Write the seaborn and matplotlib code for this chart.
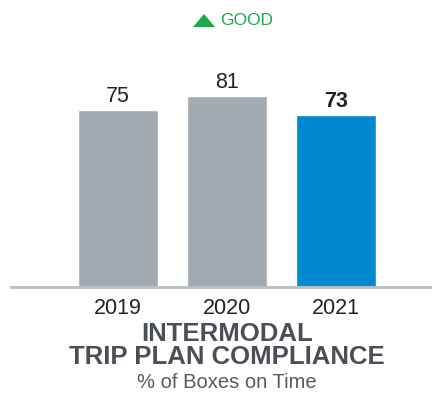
import matplotlib
matplotlib.use("Agg")
import matplotlib.pyplot as plt
from matplotlib.patches import Polygon
import seaborn as sns
import pandas as pd

years = ["2019", "2020", "2021"]
values = [75, 81, 73]
bar_colors = ["#A2ABB1", "#A2ABB1", "#0089CF"]

sns.set_theme(style="white")
plt.rcParams["font.family"] = ["Liberation Sans", "DejaVu Sans"]

df = pd.DataFrame({"year": years, "value": values})

W, H = 432, 394
fig = plt.figure(figsize=(W / 100, H / 100), dpi=100)
ax = fig.add_axes([11 / W, 1 - 287 / H, 1 - 11 / W, 236 / H])

sns.barplot(data=df, x="year", y="value", hue="year", palette=bar_colors,
            width=0.734, legend=False, ax=ax, saturation=1)

ax.set_xlim(-0.98, 2.88)
ax.set_ylim(0, 100)
for s in ["top", "right", "left"]:
    ax.spines[s].set_visible(False)
ax.spines["bottom"].set_color("#B8C0C5")
ax.spines["bottom"].set_linewidth(2)
ax.set_yticks([])
ax.set_xlabel("")
ax.set_ylabel("")
ax.tick_params(axis="x", length=0, pad=8, labelsize=15.5, colors="#222222")

for i, (cont, v) in enumerate(zip(ax.containers, values)):
    ax.bar_label(cont, labels=[str(v)], padding=2, fontsize=15.5,
                 color="#222222",
                 fontweight="bold" if i == len(values) - 1 else "normal")

title_color = "#4A4F57"
fig.text(227 / W, 1 - 334 / H, "INTERMODAL", ha="center", va="center",
         fontsize=18.5, fontweight="bold", color=title_color)
fig.text(227 / W, 1 - 357 / H, "TRIP PLAN COMPLIANCE", ha="center",
         va="center", fontsize=18.5, fontweight="bold", color=title_color)
fig.text(227 / W, 1 - 383 / H, "% of Boxes on Time", ha="center",
         va="center", fontsize=14.5, color="#555A60")

# green "good" indicator: flat up-triangle plus label
green = "#1DA84A"
tri = Polygon([(193 / W, 1 - 27 / H), (215 / W, 1 - 27 / H),
               (204 / W, 1 - 14 / H)], closed=True, transform=fig.transFigure,
              facecolor=green, edgecolor="none")
fig.patches.append(tri)
fig.text(220 / W, 1 - 20.5 / H, "GOOD", ha="left", va="center",
         fontsize=12.5, color=green)

fig.savefig("out.png", dpi=100)
